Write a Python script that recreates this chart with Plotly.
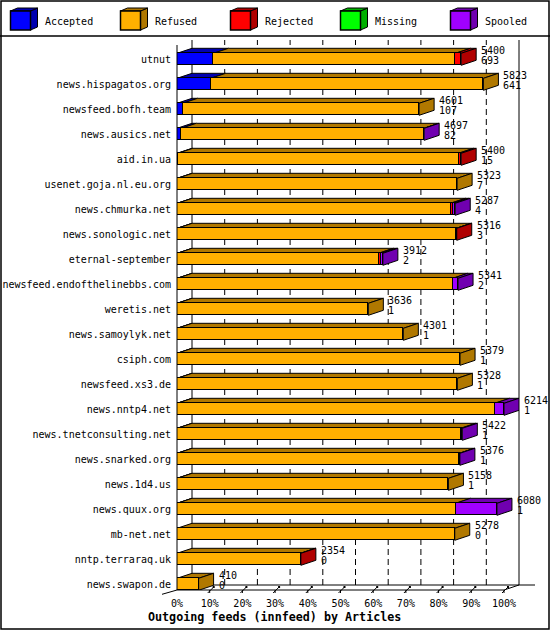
import plotly.graph_objects as go

hosts = ["utnut", "news.hispagatos.org", "newsfeed.bofh.team", "news.ausics.net",
         "aid.in.ua", "usenet.goja.nl.eu.org", "news.chmurka.net", "news.sonologic.net",
         "eternal-september", "newsfeed.endofthelinebbs.com", "weretis.net",
         "news.samoylyk.net", "csiph.com", "newsfeed.xs3.de", "news.nntp4.net",
         "news.tnetconsulting.net", "news.snarked.org", "news.1d4.us", "news.quux.org",
         "mb-net.net", "nntp.terraraq.uk", "news.swapon.de"]
offered = [5400, 5823, 4601, 4697, 5400, 5323, 5287, 5316, 3912, 5341, 3636,
           4301, 5379, 5328, 6214, 5422, 5376, 5158, 6080, 5278, 2354, 410]
accepted = [693, 641, 107, 82, 15, 7, 4, 3, 2, 2, 1, 1, 1, 1, 1, 1, 1, 1, 1, 0, 0, 0]
refused = [4599, 5182, 4494, 4609, 5335, 5316, 5195, 5305, 3828, 5239, 3635,
           4300, 5378, 5327, 6036, 5391, 5363, 5157, 5294, 5278, 2348, 410]
rejected = [108, 0, 0, 0, 50, 0, 50, 8, 50, 0, 0, 0, 0, 0, 0, 0, 0, 0, 0, 0, 6, 0]
missing = [0, 0, 0, 0, 0, 0, 0, 0, 0, 0, 0, 0, 0, 0, 0, 0, 0, 0, 0, 0, 0, 0]
spooled = [0, 0, 0, 6, 0, 0, 38, 0, 32, 100, 0, 0, 0, 0, 177, 30, 12, 0, 785, 0, 0, 0]

series_names = ["Accepted", "Refused", "Rejected", "Missing", "Spooled"]
series_vals = [accepted, refused, rejected, missing, spooled]
front_cols = ["#0000ff", "#ffb000", "#ff0000", "#00ff00", "#a000ff"]
dark_cols = ["#0000b0", "#b07800", "#b00000", "#00b000", "#7000b0"]
tick_pcts = [0, 10, 20, 30, 40, 50, 60, 70, 80, 90, 100]

# geometry (pixels)
W, H = 550, 630
L, R, T, B = 177, 519, 40, 590
FRONT_W = 327          # 100% on the front plane
DEPTH_X, DEPTH_Y = 15, 5
ROW = 25
FIRST_ROW = 59.3

xmax = 100 * (R - L) / FRONT_W
dx = DEPTH_X * 100 / FRONT_W
y_top = -(FIRST_ROW - T) / ROW
y_bot = y_top + (B - T) / ROW
dz = DEPTH_Y / ROW
hh = 6 / ROW

scale = 100 / max(offered)
rows = list(range(len(hosts)))
mono = "DejaVu Sans Mono"


def px(x):
    return (x - L) / (R - L)


def py(y):
    return (B - y) / (B - T)


def pline(x0, y0, x1, y1, layer, **kw):
    return dict(type="line", xref="paper", yref="paper", x0=px(x0), y0=py(y0),
                x1=px(x1), y1=py(y1), layer=layer, line=dict(color="black", width=1, **kw))


fig = go.Figure()
for name, vals, col in zip(series_names, series_vals, front_cols):
    fig.add_trace(go.Bar(y=rows, x=[v * scale for v in vals], orientation="h", name=name,
                         width=2 * hh, marker=dict(color=col, line=dict(color="black", width=1)),
                         showlegend=False, hoverinfo="skip"))

shapes = []
# back wall: solid edges and dashed gridlines, hidden behind the bars
shapes.append(pline(L + DEPTH_X, B - DEPTH_Y, L + DEPTH_X, T, "below"))
shapes.append(pline(R, B - DEPTH_Y, R, T, "below"))
shapes.append(pline(L + DEPTH_X, B - DEPTH_Y, 535, B - DEPTH_Y, "below"))
for p in tick_pcts[1:-1]:
    shapes.append(dict(type="line", xref="x", yref="paper", x0=p + dx, x1=p + dx,
                       y0=py(B - DEPTH_Y), y1=1, layer="below",
                       line=dict(color="black", width=1, dash="6px,4px")))

# top and side faces of the bars
for i in rows:
    c = 0
    last = None
    yt = i - hh
    for k, vals in enumerate(series_vals):
        v = vals[i]
        if v <= 0:
            continue
        x0, x1 = c * scale, (c + v) * scale
        shapes.append(dict(type="path", xref="x", yref="y", layer="below",
                           path=f"M{x0},{yt} L{x1},{yt} L{x1 + dx},{yt - dz} L{x0 + dx},{yt - dz} Z",
                           fillcolor=dark_cols[k], line=dict(color="black", width=1)))
        c += v
        last = k
    xe = c * scale
    shapes.append(dict(type="path", xref="x", yref="y", layer="below",
                       path=f"M{xe},{yt} L{xe + dx},{yt - dz} L{xe + dx},{i + hh - dz} L{xe},{i + hh} Z",
                       fillcolor=dark_cols[last], line=dict(color="black", width=1)))

# front edges of the box
shapes.append(pline(L, B, L, T + DEPTH_Y, "above"))
shapes.append(pline(L, B, L + FRONT_W, B, "above"))
shapes.append(pline(L - 15, B + 4.3, L, B, "above"))
shapes.append(pline(L + FRONT_W, B, R, B - DEPTH_Y, "above"))
for p in tick_pcts[1:]:
    xf = L + p * FRONT_W / 100
    shapes.append(pline(xf, B, xf, B + 3, "above"))
    shapes.append(pline(xf - 2, B + 3, xf + 4, B - 3, "above"))
    shapes.append(dict(type="rect", xref="paper", yref="paper", x0=px(xf + 3), y0=py(B - 4),
                       x1=px(xf + 5), y1=py(B - 2), layer="above", fillcolor="black",
                       line=dict(width=0)))

# outer border and legend separator
shapes.append(dict(type="rect", xref="paper", yref="paper", x0=px(1), y0=py(1), x1=px(549),
                   y1=py(629), line=dict(color="black", width=1.5)))
shapes.append(dict(type="line", xref="paper", yref="paper", x0=px(0), y0=py(36), x1=px(550),
                   y1=py(36), line=dict(color="black", width=1.5)))

annotations = []
# legend boxes
for k, name in enumerate(series_names):
    bx = 10.5 + 110 * k
    by0, by1 = 11, 30
    shapes.append(dict(type="path", xref="paper", yref="paper",
                       path=f"M{px(bx)},{py(by0)} L{px(bx + 20)},{py(by0)} L{px(bx + 27)},{py(by0 - 3)} "
                            f"L{px(bx + 27)},{py(by1 - 3)} L{px(bx + 20)},{py(by1)} Z",
                       fillcolor=dark_cols[k], line=dict(color="black", width=1)))
    shapes.append(dict(type="path", xref="paper", yref="paper",
                       path=f"M{px(bx)},{py(by0)} L{px(bx + 7)},{py(by0 - 3)} L{px(bx + 27)},{py(by0 - 3)} "
                            f"L{px(bx + 20)},{py(by0)} Z",
                       fillcolor=dark_cols[k], line=dict(color="black", width=1)))
    shapes.append(dict(type="rect", xref="paper", yref="paper", x0=px(bx), y0=py(by1),
                       x1=px(bx + 20), y1=py(by0), fillcolor=front_cols[k],
                       line=dict(color="black", width=1.5)))
    annotations.append(dict(text=name, xref="paper", yref="paper", x=px(bx + 32), y=py(21),
                            xanchor="left", yanchor="middle", showarrow=False,
                            font=dict(family=mono, size=10, color="black")))

# value labels at the bar ends
for i in rows:
    for txt, shift in ((str(offered[i]), 9.3), (str(accepted[i]), -1.5)):
        annotations.append(dict(text=txt, xref="x", yref="y", x=offered[i] * scale, y=i,
                                xshift=DEPTH_X + 3, yshift=shift, xanchor="left",
                                yanchor="middle", showarrow=False,
                                font=dict(family=mono, size=10, color="black")))

annotations.append(dict(text="<b>Outgoing feeds (innfeed) by Articles</b>", xref="paper",
                        yref="paper", x=px(274), y=py(617), xanchor="center", yanchor="middle",
                        showarrow=False, font=dict(family=mono, size=11.7, color="black")))

fig.update_layout(
    width=W, height=H, barmode="stack", bargap=0,
    margin=dict(l=L, r=W - R, t=T, b=H - B, pad=0, autoexpand=False),
    paper_bgcolor="white", plot_bgcolor="white",
    font=dict(family=mono, size=10, color="black"),
    shapes=shapes, annotations=annotations,
    xaxis=dict(range=[0, xmax], tickvals=tick_pcts, ticktext=[f"{p}%" for p in tick_pcts],
               showgrid=False, zeroline=False, showline=False, ticks="outside", ticklen=4,
               tickcolor="rgba(0,0,0,0)", tickfont=dict(family=mono, size=10),
               automargin=False),
    yaxis=dict(range=[y_bot, y_top], tickvals=rows, ticktext=hosts, showgrid=False,
               zeroline=False, showline=False, ticks="outside", ticklen=3,
               tickcolor="rgba(0,0,0,0)", tickfont=dict(family=mono, size=10),
               automargin=False),
)

# the page adds a body margin; drop it so the figure sits at the corner
fig.write_html("out.html", config={"displayModeBar": False},
               post_script="document.body.style.margin = '0';")
